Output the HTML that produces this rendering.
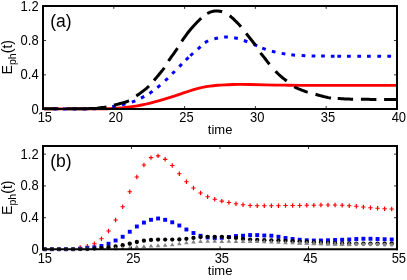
<!DOCTYPE html><html><head><meta charset="utf-8"><style>
html,body{margin:0;padding:0;background:#fff;}
svg{display:block}
text{font-family:"Liberation Sans",sans-serif;fill:#000}
</style></head><body>
<svg width="407" height="280" viewBox="0 0 407 280" style="will-change:transform">
<rect width="407" height="280" fill="#fff"/>
<g fill="none" stroke-linejoin="round">
<path d="M44.00 108.85 C53.33 108.83 88.67 108.83 100.00 108.75 C111.33 108.67 108.33 108.56 112.00 108.40 C115.67 108.24 119.00 108.05 122.00 107.80 C125.00 107.55 127.43 107.23 130.00 106.90 C132.57 106.57 134.95 106.22 137.40 105.80 C139.85 105.38 142.25 104.87 144.70 104.35 C147.15 103.83 149.63 103.31 152.10 102.70 C154.57 102.09 157.03 101.41 159.50 100.70 C161.97 99.99 164.45 99.22 166.90 98.45 C169.35 97.68 171.75 96.91 174.20 96.10 C176.65 95.29 179.13 94.43 181.60 93.60 C184.07 92.77 186.68 91.85 189.00 91.10 C191.32 90.35 193.25 89.72 195.50 89.10 C197.75 88.47 200.08 87.86 202.50 87.35 C204.92 86.84 207.50 86.40 210.00 86.05 C212.50 85.70 215.00 85.46 217.50 85.25 C220.00 85.04 222.50 84.92 225.00 84.80 C227.50 84.67 230.00 84.57 232.50 84.50 C235.00 84.43 237.08 84.40 240.00 84.40 C242.92 84.40 245.83 84.42 250.00 84.50 C254.17 84.58 259.17 84.78 265.00 84.90 C270.83 85.02 278.83 85.13 285.00 85.20 C291.17 85.27 283.50 85.28 302.00 85.30 C320.50 85.32 380.33 85.30 396.00 85.30" stroke="#ff0000" stroke-width="2.8"/>
<path d="M52.90 108.87 L56.60 108.88 M62.90 108.90 L66.60 108.91 M72.65 108.92 L76.35 108.92 M82.65 108.91 L86.35 108.90 M92.45 108.85 L96.15 108.80 M102.35 108.62 L106.05 108.35 M112.19 106.76 L115.81 106.04 M121.95 104.75 L125.55 103.85 M131.87 102.15 L135.33 100.85 M140.96 98.06 L144.24 96.34 M149.46 93.43 L152.54 91.37 M157.38 87.59 L160.22 85.21 M165.16 80.77 L167.84 78.23 M172.20 73.81 L174.80 71.19 M179.30 66.61 L181.90 63.99 M185.87 59.99 L188.53 57.41 M190.33 55.74 L193.07 53.26 M197.81 49.02 L200.59 46.58 M204.88 42.60 L208.12 40.80 M214.40 38.82 L218.00 37.98 M224.15 37.12 L227.85 37.08 M234.19 37.83 L237.81 38.57 M243.86 40.48 L247.34 41.72 M253.79 44.39 L257.21 45.81 M262.26 48.07 L265.74 49.33 M271.91 51.24 L275.49 52.16 M281.68 53.39 L285.32 54.01 M291.36 54.83 L295.04 55.17 M301.65 55.60 L305.35 55.78 M311.65 56.05 L315.35 56.08 M321.15 56.11 L324.85 56.12 M330.85 56.13 L334.55 56.14 M337.35 56.14 L341.05 56.15 M347.05 56.16 L350.75 56.16 M357.35 56.17 L361.05 56.17 M367.05 56.18 L370.75 56.18 M377.35 56.18 L381.05 56.19 M387.35 56.19 L391.05 56.19" stroke="#0000ff" stroke-width="3"/>
<path d="M44.00 108.85 L46.34 108.84 L49.42 108.83 L51.20 108.82 L53.11 108.82 L55.14 108.81 L57.26 108.81 L58.50 108.80 M66.50 108.77 L68.72 108.77 L71.06 108.76 L73.37 108.75 L75.63 108.73 L77.83 108.72 L79.95 108.71 L81.98 108.69 L83.88 108.68 L85.66 108.66 L87.28 108.64 L90.00 108.60 L92.10 108.55 L93.79 108.50 L95.66 108.41 L97.20 108.28 L98.76 107.98 L100.34 107.77 L101.85 107.60 L103.41 107.41 L105.14 107.14 L106.50 106.90 M114.00 105.20 L115.56 104.81 L117.12 104.41 L118.69 104.00 L120.25 103.57 L121.81 103.11 L123.38 102.67 L124.94 102.22 L126.50 101.73 L128.06 101.13 L129.00 100.70 M136.30 95.94 L137.59 95.06 L138.86 94.17 L140.32 93.14 L141.76 92.07 L143.00 91.11 L144.26 90.13 L145.52 89.12 L146.77 88.07 L148.01 86.96 L149.00 86.01 M154.00 80.43 L155.05 79.22 L156.06 78.04 L157.03 76.89 L158.00 75.72 L159.00 74.50 L160.04 73.24 L161.09 71.96 L162.15 70.65 L163.19 69.31 L164.20 67.92 L164.30 67.77 M168.50 61.00 L169.44 59.61 L170.38 58.28 L171.31 56.96 L172.25 55.66 L173.19 54.33 L174.13 53.01 L175.08 51.70 L176.02 50.37 L176.95 49.02 L177.50 48.20 M181.70 41.30 L182.59 40.03 L183.58 38.61 L184.66 37.10 L185.81 35.51 L187.00 33.89 L188.23 32.27 L189.47 30.70 L190.70 29.20 L191.97 27.73 L193.32 26.22 L194.73 24.72 L196.14 23.24 L197.53 21.82 L198.86 20.48 L200.09 19.27 L201.20 18.20 M207.20 13.50 L208.66 12.78 L210.22 12.14 L211.82 11.60 L213.43 11.20 L215.01 10.97 L216.57 10.89 L218.14 10.96 L219.70 11.17 L221.26 11.52 L222.20 11.80 M229.70 15.80 L231.02 16.80 L232.25 17.86 L233.42 18.96 L234.57 20.09 L235.74 21.23 L236.90 22.37 L238.06 23.52 L239.20 24.71 L240.33 25.94 L241.00 26.70 M246.20 33.40 L247.23 34.71 L248.23 35.98 L249.22 37.24 L250.21 38.49 L251.20 39.75 L252.18 41.00 L253.16 42.23 L254.13 43.49 L255.11 44.78 L255.70 45.60 M260.50 52.80 L261.46 54.08 L262.40 55.28 L263.51 56.65 L264.63 58.03 L265.55 59.21 L266.62 60.62 L267.70 62.04 L268.66 63.27 L269.50 64.30 M275.50 71.20 L276.68 72.40 L277.82 73.52 L278.94 74.57 L280.08 75.59 L281.23 76.60 L282.59 77.75 L283.96 78.85 L285.14 79.79 L286.43 80.79 L286.70 81.00 M294.20 86.70 L295.66 87.53 L297.09 88.21 L298.49 88.80 L300.16 89.46 L301.56 90.03 L303.20 90.66 L304.84 91.26 L306.52 91.83 L307.70 92.20 M315.50 94.30 L317.07 94.74 L318.62 95.20 L320.16 95.64 L321.72 96.07 L323.32 96.48 L325.00 96.88 L326.71 97.28 L328.41 97.64 L330.06 97.95 L331.00 98.10 M337.70 98.50 L339.67 98.61 L341.32 98.70 L343.10 98.80 L345.02 98.90 L347.06 98.99 L349.23 99.08 L350.74 99.13 L352.30 99.18 L353.10 99.20 M360.90 99.32 L362.44 99.33 L364.49 99.34 L366.55 99.36 L368.61 99.37 L370.65 99.38 L372.64 99.38 L374.56 99.39 L376.40 99.40 M384.10 99.41 L385.82 99.41 L387.66 99.41 L389.41 99.41 L391.06 99.41 L392.56 99.40 L394.51 99.40 L396.00 99.40" stroke="#000" stroke-width="3"/>
</g>
<g stroke="#000" stroke-width="0.8">
<line x1="113.80" y1="109.00" x2="113.80" y2="106.00"/>
<line x1="113.80" y1="5.90" x2="113.80" y2="8.90"/>
<line x1="184.60" y1="109.00" x2="184.60" y2="106.00"/>
<line x1="184.60" y1="5.90" x2="184.60" y2="8.90"/>
<line x1="255.40" y1="109.00" x2="255.40" y2="106.00"/>
<line x1="255.40" y1="5.90" x2="255.40" y2="8.90"/>
<line x1="326.20" y1="109.00" x2="326.20" y2="106.00"/>
<line x1="326.20" y1="5.90" x2="326.20" y2="8.90"/>
<line x1="43.00" y1="74.83" x2="46.00" y2="74.83"/>
<line x1="397.00" y1="74.83" x2="394.00" y2="74.83"/>
<line x1="43.00" y1="40.47" x2="46.00" y2="40.47"/>
<line x1="397.00" y1="40.47" x2="394.00" y2="40.47"/>
</g>
<g stroke="#000"><path d="M43.00 4.88 V110.07 M397.00 4.88 V110.07" stroke-width="2"/><path d="M42.00 5.90 H398.00" stroke-width="2.05"/><path d="M42.00 109.00 H398.00" stroke-width="2.15"/></g>
<filter id="mb" x="-5%" y="-5%" width="110%" height="110%"><feGaussianBlur stdDeviation="0.3"/></filter><g filter="url(#mb)">
<path d="M78.00 247.50 h4.4 M80.20 245.30 v4.4" stroke="#ff0000" stroke-width="1.2" fill="none"/>
<path d="M85.08 246.25 h4.4 M87.28 244.05 v4.4" stroke="#ff0000" stroke-width="1.2" fill="none"/>
<path d="M92.16 243.75 h4.4 M94.36 241.55 v4.4" stroke="#ff0000" stroke-width="1.2" fill="none"/>
<path d="M99.24 238.75 h4.4 M101.44 236.55 v4.4" stroke="#ff0000" stroke-width="1.2" fill="none"/>
<path d="M106.32 231.00 h4.4 M108.52 228.80 v4.4" stroke="#ff0000" stroke-width="1.2" fill="none"/>
<path d="M113.40 220.00 h4.4 M115.60 217.80 v4.4" stroke="#ff0000" stroke-width="1.2" fill="none"/>
<path d="M120.48 206.75 h4.4 M122.68 204.55 v4.4" stroke="#ff0000" stroke-width="1.2" fill="none"/>
<path d="M127.56 191.75 h4.4 M129.76 189.55 v4.4" stroke="#ff0000" stroke-width="1.2" fill="none"/>
<path d="M134.64 177.00 h4.4 M136.84 174.80 v4.4" stroke="#ff0000" stroke-width="1.2" fill="none"/>
<path d="M141.72 165.00 h4.4 M143.92 162.80 v4.4" stroke="#ff0000" stroke-width="1.2" fill="none"/>
<path d="M148.80 157.60 h4.4 M151.00 155.40 v4.4" stroke="#ff0000" stroke-width="1.2" fill="none"/>
<path d="M155.88 155.90 h4.4 M158.08 153.70 v4.4" stroke="#ff0000" stroke-width="1.2" fill="none"/>
<path d="M162.96 159.30 h4.4 M165.16 157.10 v4.4" stroke="#ff0000" stroke-width="1.2" fill="none"/>
<path d="M170.04 165.50 h4.4 M172.24 163.30 v4.4" stroke="#ff0000" stroke-width="1.2" fill="none"/>
<path d="M177.12 173.75 h4.4 M179.32 171.55 v4.4" stroke="#ff0000" stroke-width="1.2" fill="none"/>
<path d="M184.20 181.75 h4.4 M186.40 179.55 v4.4" stroke="#ff0000" stroke-width="1.2" fill="none"/>
<path d="M191.28 188.00 h4.4 M193.48 185.80 v4.4" stroke="#ff0000" stroke-width="1.2" fill="none"/>
<path d="M198.36 193.00 h4.4 M200.56 190.80 v4.4" stroke="#ff0000" stroke-width="1.2" fill="none"/>
<path d="M205.44 196.75 h4.4 M207.64 194.55 v4.4" stroke="#ff0000" stroke-width="1.2" fill="none"/>
<path d="M212.52 199.25 h4.4 M214.72 197.05 v4.4" stroke="#ff0000" stroke-width="1.2" fill="none"/>
<path d="M219.60 201.10 h4.4 M221.80 198.90 v4.4" stroke="#ff0000" stroke-width="1.2" fill="none"/>
<path d="M226.68 202.50 h4.4 M228.88 200.30 v4.4" stroke="#ff0000" stroke-width="1.2" fill="none"/>
<path d="M233.76 203.75 h4.4 M235.96 201.55 v4.4" stroke="#ff0000" stroke-width="1.2" fill="none"/>
<path d="M240.84 204.75 h4.4 M243.04 202.55 v4.4" stroke="#ff0000" stroke-width="1.2" fill="none"/>
<path d="M247.92 205.50 h4.4 M250.12 203.30 v4.4" stroke="#ff0000" stroke-width="1.2" fill="none"/>
<path d="M255.00 205.75 h4.4 M257.20 203.55 v4.4" stroke="#ff0000" stroke-width="1.2" fill="none"/>
<path d="M262.08 205.75 h4.4 M264.28 203.55 v4.4" stroke="#ff0000" stroke-width="1.2" fill="none"/>
<path d="M269.16 205.75 h4.4 M271.36 203.55 v4.4" stroke="#ff0000" stroke-width="1.2" fill="none"/>
<path d="M276.24 205.75 h4.4 M278.44 203.55 v4.4" stroke="#ff0000" stroke-width="1.2" fill="none"/>
<path d="M283.32 205.50 h4.4 M285.52 203.30 v4.4" stroke="#ff0000" stroke-width="1.2" fill="none"/>
<path d="M290.40 205.50 h4.4 M292.60 203.30 v4.4" stroke="#ff0000" stroke-width="1.2" fill="none"/>
<path d="M297.48 205.50 h4.4 M299.68 203.30 v4.4" stroke="#ff0000" stroke-width="1.2" fill="none"/>
<path d="M304.56 205.25 h4.4 M306.76 203.05 v4.4" stroke="#ff0000" stroke-width="1.2" fill="none"/>
<path d="M311.64 205.25 h4.4 M313.84 203.05 v4.4" stroke="#ff0000" stroke-width="1.2" fill="none"/>
<path d="M318.72 205.00 h4.4 M320.92 202.80 v4.4" stroke="#ff0000" stroke-width="1.2" fill="none"/>
<path d="M325.80 205.00 h4.4 M328.00 202.80 v4.4" stroke="#ff0000" stroke-width="1.2" fill="none"/>
<path d="M332.88 205.00 h4.4 M335.08 202.80 v4.4" stroke="#ff0000" stroke-width="1.2" fill="none"/>
<path d="M339.96 205.25 h4.4 M342.16 203.05 v4.4" stroke="#ff0000" stroke-width="1.2" fill="none"/>
<path d="M347.04 205.75 h4.4 M349.24 203.55 v4.4" stroke="#ff0000" stroke-width="1.2" fill="none"/>
<path d="M354.12 206.25 h4.4 M356.32 204.05 v4.4" stroke="#ff0000" stroke-width="1.2" fill="none"/>
<path d="M361.20 207.00 h4.4 M363.40 204.80 v4.4" stroke="#ff0000" stroke-width="1.2" fill="none"/>
<path d="M368.28 207.75 h4.4 M370.48 205.55 v4.4" stroke="#ff0000" stroke-width="1.2" fill="none"/>
<path d="M375.36 208.25 h4.4 M377.56 206.05 v4.4" stroke="#ff0000" stroke-width="1.2" fill="none"/>
<path d="M382.44 208.75 h4.4 M384.64 206.55 v4.4" stroke="#ff0000" stroke-width="1.2" fill="none"/>
<path d="M389.52 209.00 h4.4 M391.72 206.80 v4.4" stroke="#ff0000" stroke-width="1.2" fill="none"/>
<rect x="42.85" y="247.25" width="3.9" height="3.9" fill="#0000ff"/>
<rect x="49.93" y="247.25" width="3.9" height="3.9" fill="#0000ff"/>
<rect x="57.01" y="247.25" width="3.9" height="3.9" fill="#0000ff"/>
<rect x="64.09" y="247.25" width="3.9" height="3.9" fill="#0000ff"/>
<rect x="71.17" y="247.25" width="3.9" height="3.9" fill="#0000ff"/>
<rect x="78.25" y="246.65" width="3.9" height="3.9" fill="#0000ff"/>
<rect x="85.33" y="246.25" width="3.9" height="3.9" fill="#0000ff"/>
<rect x="92.41" y="245.35" width="3.9" height="3.9" fill="#0000ff"/>
<rect x="99.49" y="244.05" width="3.9" height="3.9" fill="#0000ff"/>
<rect x="106.57" y="241.80" width="3.9" height="3.9" fill="#0000ff"/>
<rect x="113.65" y="238.55" width="3.9" height="3.9" fill="#0000ff"/>
<rect x="120.73" y="234.80" width="3.9" height="3.9" fill="#0000ff"/>
<rect x="127.81" y="229.80" width="3.9" height="3.9" fill="#0000ff"/>
<rect x="134.89" y="224.55" width="3.9" height="3.9" fill="#0000ff"/>
<rect x="141.97" y="220.65" width="3.9" height="3.9" fill="#0000ff"/>
<rect x="149.05" y="217.85" width="3.9" height="3.9" fill="#0000ff"/>
<rect x="156.13" y="216.55" width="3.9" height="3.9" fill="#0000ff"/>
<rect x="163.21" y="217.85" width="3.9" height="3.9" fill="#0000ff"/>
<rect x="170.29" y="220.35" width="3.9" height="3.9" fill="#0000ff"/>
<rect x="177.37" y="223.55" width="3.9" height="3.9" fill="#0000ff"/>
<rect x="184.45" y="227.55" width="3.9" height="3.9" fill="#0000ff"/>
<rect x="191.53" y="231.05" width="3.9" height="3.9" fill="#0000ff"/>
<rect x="198.61" y="233.80" width="3.9" height="3.9" fill="#0000ff"/>
<rect x="205.69" y="235.55" width="3.9" height="3.9" fill="#0000ff"/>
<rect x="212.77" y="236.30" width="3.9" height="3.9" fill="#0000ff"/>
<rect x="219.85" y="235.85" width="3.9" height="3.9" fill="#0000ff"/>
<rect x="226.93" y="235.05" width="3.9" height="3.9" fill="#0000ff"/>
<rect x="234.01" y="234.10" width="3.9" height="3.9" fill="#0000ff"/>
<rect x="241.09" y="233.75" width="3.9" height="3.9" fill="#0000ff"/>
<rect x="248.17" y="233.15" width="3.9" height="3.9" fill="#0000ff"/>
<rect x="255.25" y="233.15" width="3.9" height="3.9" fill="#0000ff"/>
<rect x="262.33" y="233.55" width="3.9" height="3.9" fill="#0000ff"/>
<rect x="269.41" y="233.75" width="3.9" height="3.9" fill="#0000ff"/>
<rect x="276.49" y="234.80" width="3.9" height="3.9" fill="#0000ff"/>
<rect x="283.57" y="236.05" width="3.9" height="3.9" fill="#0000ff"/>
<rect x="290.65" y="237.05" width="3.9" height="3.9" fill="#0000ff"/>
<rect x="297.73" y="237.80" width="3.9" height="3.9" fill="#0000ff"/>
<rect x="304.81" y="238.30" width="3.9" height="3.9" fill="#0000ff"/>
<rect x="311.89" y="238.55" width="3.9" height="3.9" fill="#0000ff"/>
<rect x="318.97" y="238.55" width="3.9" height="3.9" fill="#0000ff"/>
<rect x="326.05" y="238.30" width="3.9" height="3.9" fill="#0000ff"/>
<rect x="333.13" y="238.05" width="3.9" height="3.9" fill="#0000ff"/>
<rect x="340.21" y="237.80" width="3.9" height="3.9" fill="#0000ff"/>
<rect x="347.29" y="237.55" width="3.9" height="3.9" fill="#0000ff"/>
<rect x="354.37" y="237.05" width="3.9" height="3.9" fill="#0000ff"/>
<rect x="361.45" y="236.80" width="3.9" height="3.9" fill="#0000ff"/>
<rect x="368.53" y="236.80" width="3.9" height="3.9" fill="#0000ff"/>
<rect x="375.61" y="237.05" width="3.9" height="3.9" fill="#0000ff"/>
<rect x="382.69" y="237.30" width="3.9" height="3.9" fill="#0000ff"/>
<rect x="389.77" y="237.55" width="3.9" height="3.9" fill="#0000ff"/>
<circle cx="44.80" cy="249.20" r="2.15" fill="#3c3636"/>
<circle cx="51.88" cy="249.20" r="2.15" fill="#3c3636"/>
<circle cx="58.96" cy="249.20" r="2.15" fill="#3c3636"/>
<circle cx="66.04" cy="249.20" r="2.15" fill="#3c3636"/>
<circle cx="73.12" cy="249.20" r="2.15" fill="#3c3636"/>
<circle cx="80.20" cy="249.20" r="2.15" fill="#3c3636"/>
<circle cx="87.28" cy="249.20" r="2.15" fill="#3c3636"/>
<circle cx="94.36" cy="248.60" r="2.15" fill="#000"/>
<circle cx="101.44" cy="247.90" r="2.15" fill="#000"/>
<circle cx="108.52" cy="247.20" r="2.15" fill="#000"/>
<circle cx="115.60" cy="246.50" r="2.15" fill="#000"/>
<circle cx="122.68" cy="245.25" r="2.15" fill="#000"/>
<circle cx="129.76" cy="243.75" r="2.15" fill="#000"/>
<circle cx="136.84" cy="242.00" r="2.15" fill="#000"/>
<circle cx="143.92" cy="240.70" r="2.15" fill="#000"/>
<circle cx="151.00" cy="239.90" r="2.15" fill="#000"/>
<circle cx="158.08" cy="239.60" r="2.15" fill="#000"/>
<circle cx="165.16" cy="239.60" r="2.15" fill="#000"/>
<circle cx="172.24" cy="239.60" r="2.15" fill="#000"/>
<circle cx="179.32" cy="239.40" r="2.15" fill="#000"/>
<circle cx="186.40" cy="238.80" r="2.15" fill="#000"/>
<circle cx="193.48" cy="237.90" r="2.15" fill="#000"/>
<circle cx="200.56" cy="237.10" r="2.15" fill="#000"/>
<circle cx="207.64" cy="236.85" r="2.15" fill="#000"/>
<circle cx="214.72" cy="236.85" r="2.15" fill="#000"/>
<circle cx="221.80" cy="236.85" r="2.15" fill="#000"/>
<circle cx="228.88" cy="237.30" r="2.15" fill="#000"/>
<circle cx="235.96" cy="238.00" r="2.15" fill="#000"/>
<circle cx="243.04" cy="238.90" r="2.15" fill="#000"/>
<circle cx="250.12" cy="239.60" r="2.15" fill="#000"/>
<circle cx="257.20" cy="240.00" r="2.15" fill="#000"/>
<circle cx="264.28" cy="240.20" r="2.15" fill="#000"/>
<circle cx="271.36" cy="240.30" r="2.15" fill="#000"/>
<circle cx="278.44" cy="240.50" r="2.15" fill="#000"/>
<circle cx="285.52" cy="240.80" r="2.15" fill="#000"/>
<circle cx="292.60" cy="241.20" r="2.15" fill="#000"/>
<circle cx="299.68" cy="241.60" r="2.15" fill="#000"/>
<circle cx="306.76" cy="242.00" r="2.15" fill="#000"/>
<circle cx="313.84" cy="242.40" r="2.15" fill="#000"/>
<circle cx="320.92" cy="242.70" r="2.15" fill="#000"/>
<circle cx="328.00" cy="243.00" r="2.15" fill="#000"/>
<circle cx="335.08" cy="243.20" r="2.15" fill="#000"/>
<circle cx="342.16" cy="243.40" r="2.15" fill="#000"/>
<circle cx="349.24" cy="243.50" r="2.15" fill="#000"/>
<circle cx="356.32" cy="243.60" r="2.15" fill="#000"/>
<circle cx="363.40" cy="243.60" r="2.15" fill="#000"/>
<circle cx="370.48" cy="243.60" r="2.15" fill="#000"/>
<circle cx="377.56" cy="243.60" r="2.15" fill="#000"/>
<circle cx="384.64" cy="243.60" r="2.15" fill="#000"/>
<circle cx="391.72" cy="243.60" r="2.15" fill="#000"/>
<path d="M115.60 246.35 l2.3 3.9 h-4.6 z" fill="#848484"/>
<path d="M122.68 245.95 l2.3 3.9 h-4.6 z" fill="#848484"/>
<path d="M129.76 245.35 l2.3 3.9 h-4.6 z" fill="#848484"/>
<path d="M136.84 244.55 l2.3 3.9 h-4.6 z" fill="#848484"/>
<path d="M143.92 244.15 l2.3 3.9 h-4.6 z" fill="#848484"/>
<path d="M151.00 243.65 l2.3 3.9 h-4.6 z" fill="#848484"/>
<path d="M158.08 243.25 l2.3 3.9 h-4.6 z" fill="#848484"/>
<path d="M165.16 242.90 l2.3 3.9 h-4.6 z" fill="#848484"/>
<path d="M172.24 242.40 l2.3 3.9 h-4.6 z" fill="#848484"/>
<path d="M179.32 241.45 l2.3 3.9 h-4.6 z" fill="#848484"/>
<path d="M186.40 240.45 l2.3 3.9 h-4.6 z" fill="#848484"/>
<path d="M193.48 239.50 l2.3 3.9 h-4.6 z" fill="#848484"/>
<path d="M200.56 239.10 l2.3 3.9 h-4.6 z" fill="#848484"/>
<path d="M207.64 238.95 l2.3 3.9 h-4.6 z" fill="#848484"/>
<path d="M214.72 238.95 l2.3 3.9 h-4.6 z" fill="#848484"/>
<path d="M221.80 239.10 l2.3 3.9 h-4.6 z" fill="#848484"/>
<path d="M228.88 238.95 l2.3 3.9 h-4.6 z" fill="#848484"/>
<path d="M235.96 239.00 l2.3 3.9 h-4.6 z" fill="#848484"/>
<path d="M243.04 239.00 l2.3 3.9 h-4.6 z" fill="#848484"/>
<path d="M250.12 239.10 l2.3 3.9 h-4.6 z" fill="#848484"/>
<path d="M257.20 239.15 l2.3 3.9 h-4.6 z" fill="#848484"/>
<path d="M264.28 239.25 l2.3 3.9 h-4.6 z" fill="#848484"/>
<path d="M271.36 239.55 l2.3 3.9 h-4.6 z" fill="#848484"/>
<path d="M278.44 239.90 l2.3 3.9 h-4.6 z" fill="#848484"/>
<path d="M285.52 240.25 l2.3 3.9 h-4.6 z" fill="#848484"/>
<path d="M292.60 240.45 l2.3 3.9 h-4.6 z" fill="#848484"/>
<path d="M299.68 240.80 l2.1 3.6 h-4.2 z" fill="#848484" stroke="#848484" stroke-width="0.8" stroke-linejoin="round"/>
<path d="M306.76 241.00 l2.1 3.6 h-4.2 z" fill="#848484" stroke="#848484" stroke-width="0.8" stroke-linejoin="round"/>
<path d="M313.84 241.20 l2.1 3.6 h-4.2 z" fill="#848484" stroke="#848484" stroke-width="0.8" stroke-linejoin="round"/>
<path d="M320.92 241.40 l2.1 3.6 h-4.2 z" fill="#848484" stroke="#848484" stroke-width="0.8" stroke-linejoin="round"/>
<path d="M328.00 241.60 l2.1 3.6 h-4.2 z" fill="#848484" stroke="#848484" stroke-width="0.8" stroke-linejoin="round"/>
<path d="M335.08 241.80 l2.1 3.6 h-4.2 z" fill="#848484" stroke="#848484" stroke-width="0.8" stroke-linejoin="round"/>
<path d="M342.16 242.00 l2.1 3.6 h-4.2 z" fill="#848484" stroke="#848484" stroke-width="0.8" stroke-linejoin="round"/>
<path d="M349.24 242.15 l2.1 3.6 h-4.2 z" fill="#848484" stroke="#848484" stroke-width="0.8" stroke-linejoin="round"/>
<circle cx="356.32" cy="244.25" r="1.9" fill="#848484"/>
<circle cx="363.40" cy="244.35" r="1.9" fill="#848484"/>
<circle cx="370.48" cy="244.40" r="1.9" fill="#848484"/>
<circle cx="377.56" cy="244.45" r="1.9" fill="#848484"/>
<circle cx="384.64" cy="244.70" r="1.9" fill="#848484"/>
<circle cx="391.72" cy="244.70" r="1.9" fill="#848484"/>
</g>
<g stroke="#000" stroke-width="0.8">
<line x1="131.50" y1="249.25" x2="131.50" y2="246.25"/>
<line x1="131.50" y1="146.00" x2="131.50" y2="149.00"/>
<line x1="220.00" y1="249.25" x2="220.00" y2="246.25"/>
<line x1="220.00" y1="146.00" x2="220.00" y2="149.00"/>
<line x1="308.50" y1="249.25" x2="308.50" y2="246.25"/>
<line x1="308.50" y1="146.00" x2="308.50" y2="149.00"/>
<line x1="43.00" y1="217.68" x2="46.00" y2="217.68"/>
<line x1="397.00" y1="217.68" x2="394.00" y2="217.68"/>
<line x1="43.00" y1="185.91" x2="46.00" y2="185.91"/>
<line x1="397.00" y1="185.91" x2="394.00" y2="185.91"/>
<line x1="43.00" y1="154.14" x2="46.00" y2="154.14"/>
<line x1="397.00" y1="154.14" x2="394.00" y2="154.14"/>
</g>
<g stroke="#000"><path d="M43.00 144.98 V250.32 M397.00 144.98 V250.32" stroke-width="2"/><path d="M42.00 146.00 H398.00" stroke-width="2.05"/><path d="M42.00 249.25 H398.00" stroke-width="2.15"/></g>
<g font-size="13.8">
<text transform="translate(38.60,113.75) scale(0.940,1)" text-anchor="end">0</text>
<text transform="translate(38.60,79.38) scale(0.940,1)" text-anchor="end">0.4</text>
<text transform="translate(38.60,45.02) scale(0.940,1)" text-anchor="end">0.8</text>
<text transform="translate(38.60,10.65) scale(0.940,1)" text-anchor="end">1.2</text>
<text transform="translate(44.85,122.10) scale(0.940,1)" text-anchor="middle">15</text>
<text transform="translate(115.65,122.10) scale(0.940,1)" text-anchor="middle">20</text>
<text transform="translate(186.45,122.10) scale(0.940,1)" text-anchor="middle">25</text>
<text transform="translate(257.25,122.10) scale(0.940,1)" text-anchor="middle">30</text>
<text transform="translate(328.05,122.10) scale(0.940,1)" text-anchor="middle">35</text>
<text transform="translate(398.85,122.10) scale(0.940,1)" text-anchor="middle">40</text>
<text x="207.8" y="134.3" font-size="13.6" textLength="24.6" lengthAdjust="spacingAndGlyphs">time</text>
<text transform="translate(38.60,254.00) scale(0.940,1)" text-anchor="end">0</text>
<text transform="translate(38.60,222.23) scale(0.940,1)" text-anchor="end">0.4</text>
<text transform="translate(38.60,190.46) scale(0.940,1)" text-anchor="end">0.8</text>
<text transform="translate(38.60,158.69) scale(0.940,1)" text-anchor="end">1.2</text>
<text transform="translate(44.85,263.20) scale(0.940,1)" text-anchor="middle">15</text>
<text transform="translate(133.35,263.20) scale(0.940,1)" text-anchor="middle">25</text>
<text transform="translate(221.85,263.20) scale(0.940,1)" text-anchor="middle">35</text>
<text transform="translate(310.35,263.20) scale(0.940,1)" text-anchor="middle">45</text>
<text transform="translate(398.85,263.20) scale(0.940,1)" text-anchor="middle">55</text>
<text x="207.8" y="274.85" font-size="13.6" textLength="24.6" lengthAdjust="spacingAndGlyphs">time</text>
</g>
<text x="50.2" y="26.6" font-size="17.5">(a)</text>
<text x="50.2" y="166.5" font-size="17.5">(b)</text>
<text transform="translate(11.6,57.2) rotate(-90)" font-size="14.2" text-anchor="middle">E<tspan font-size="10.5" dy="4.6">ph</tspan><tspan dy="-4.6">(t)</tspan></text>
<text transform="translate(11.6,197.7) rotate(-90)" font-size="14.2" text-anchor="middle">E<tspan font-size="10.5" dy="4.6">ph</tspan><tspan dy="-4.6">(t)</tspan></text>
</svg></body></html>
